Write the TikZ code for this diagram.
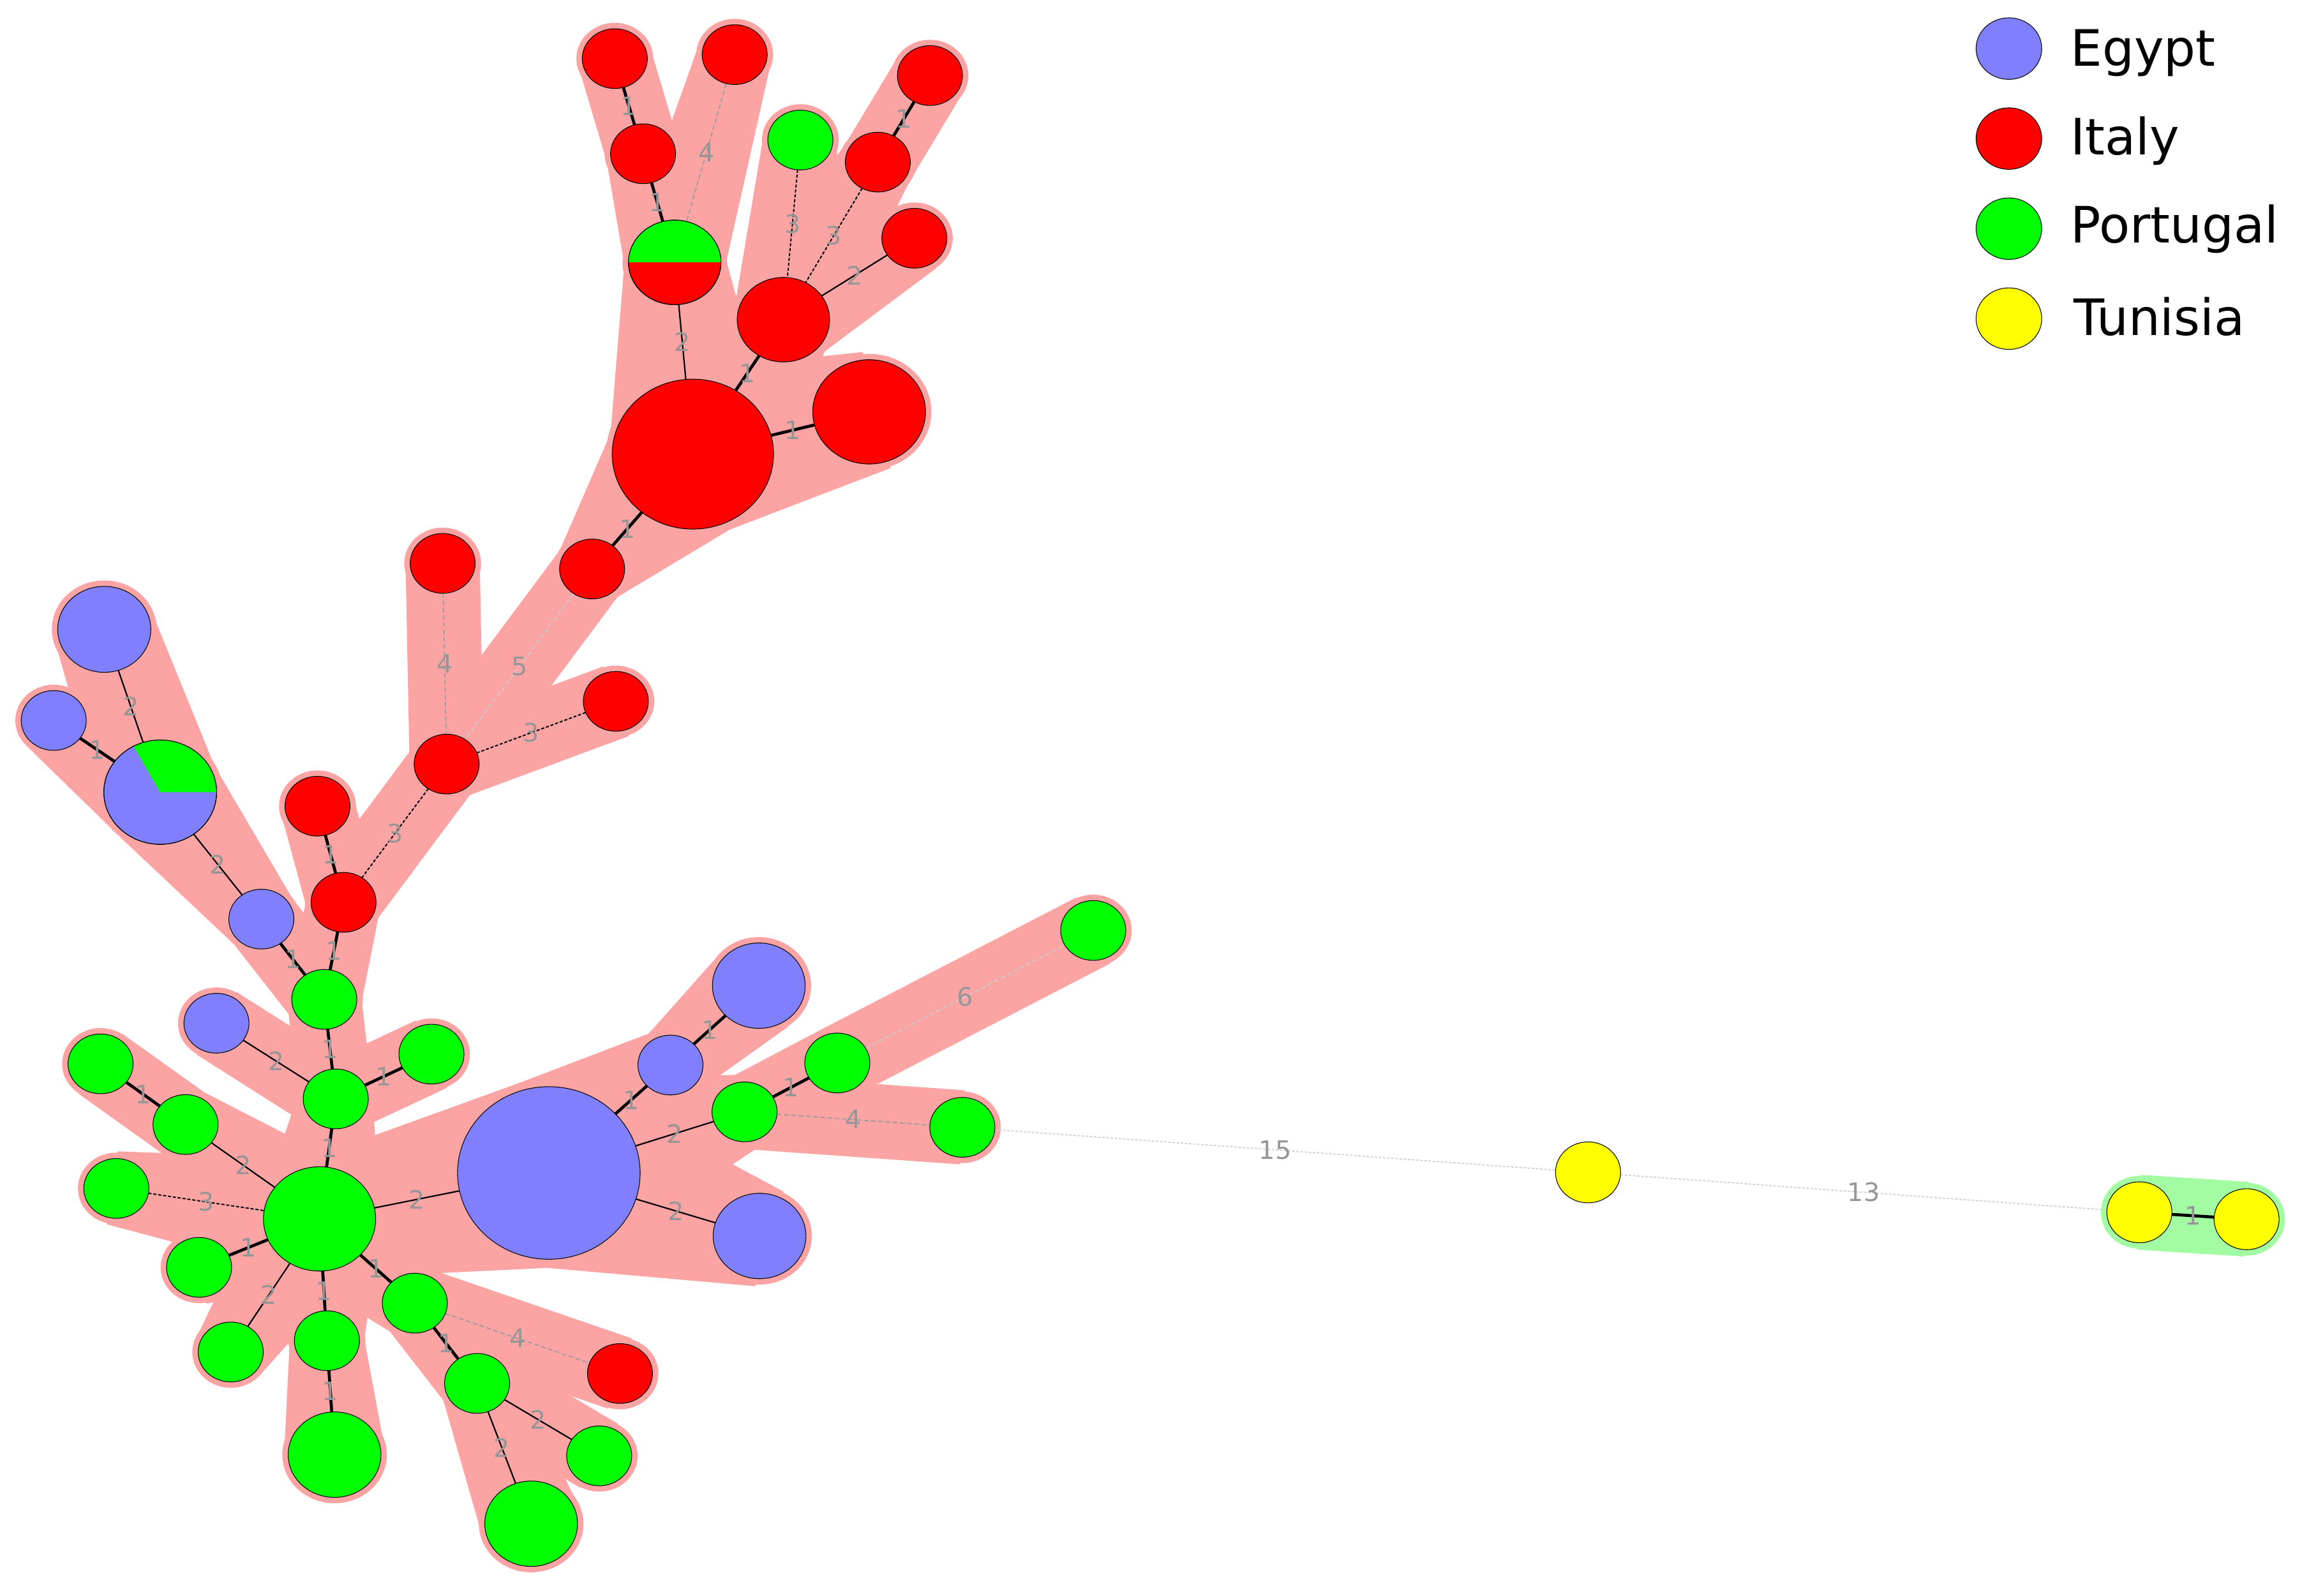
\documentclass[tikz,border=0pt]{standalone}
\usepackage{fontspec}
\setmainfont{DejaVu Sans}
\usetikzlibrary{shapes.geometric,calc}
\definecolor{eg}{RGB}{128,128,255}
\definecolor{it}{RGB}{255,0,0}
\definecolor{pt}{RGB}{0,255,0}
\definecolor{tn}{RGB}{255,255,0}
\definecolor{hullpink}{RGB}{252,164,164}
\definecolor{hullgreen}{RGB}{162,252,162}
\definecolor{lblgray}{RGB}{150,150,150}
\pgfdeclarelayer{background}
\pgfdeclarelayer{hulls}
\pgfdeclarelayer{edges}
\pgfsetlayers{background,hulls,edges,main}
\def\hullm{4}
\newcommand\setnode[6]{%
  \expandafter\xdef\csname ndx@#1\endcsname{#2}%
  \expandafter\xdef\csname ndy@#1\endcsname{#3}%
  \expandafter\xdef\csname ndrx@#1\endcsname{#4}%
  \expandafter\xdef\csname ndry@#1\endcsname{#5}%
  \node[nd, fill=#6, minimum width=#4*2mm, minimum height=#5*2mm] (#1) at (#2,#3) {};%
}
\newcommand\hull[3]{%
  \pgfmathsetmacro\hxa{\csname ndx@#2\endcsname}%
  \pgfmathsetmacro\hya{\csname ndy@#2\endcsname}%
  \pgfmathsetmacro\hexa{\csname ndrx@#2\endcsname+\hullm}%
  \pgfmathsetmacro\heya{\csname ndry@#2\endcsname+\hullm}%
  \pgfmathsetmacro\hra{(\hexa+\heya)/2}%
  \pgfmathsetmacro\hxb{\csname ndx@#3\endcsname}%
  \pgfmathsetmacro\hyb{\csname ndy@#3\endcsname}%
  \pgfmathsetmacro\hexb{\csname ndrx@#3\endcsname+\hullm}%
  \pgfmathsetmacro\heyb{\csname ndry@#3\endcsname+\hullm}%
  \pgfmathsetmacro\hrb{(\hexb+\heyb)/2}%
  \pgfmathsetmacro\hth{atan2(\hyb-\hya,\hxb-\hxa)}%
  \pgfmathsetmacro\hd{veclen(\hxb-\hxa,\hyb-\hya)}%
  \pgfmathsetmacro\hal{acos((\hra-\hrb)/\hd)}%
  \begin{pgfonlayer}{hulls}
    \fill[#1] (\hxa,\hya) ellipse[x radius=\hexa, y radius=\heya]
              (\hxb,\hyb) ellipse[x radius=\hexb, y radius=\heyb];
    \fill[#1] ($(\hxa,\hya)+(\hth+\hal:\hra)$) -- ($(\hxb,\hyb)+(\hth+\hal:\hrb)$)
           -- ($(\hxb,\hyb)+(\hth-\hal:\hrb)$) -- ($(\hxa,\hya)+(\hth-\hal:\hra)$) -- cycle;
  \end{pgfonlayer}%
}
\newcommand\edge[4]{%
  \begin{pgfonlayer}{edges}
    \draw[#1] (#2) -- node[lbl]{#4} (#3);
  \end{pgfonlayer}%
}
\begin{document}
\begin{tikzpicture}[x=1mm,y=-1mm,
  nd/.style={ellipse, draw=black, line width=1.3pt, inner sep=0pt, outer sep=0pt},
  lbl/.style={text=lblgray, font=\fontsize{49}{50}\selectfont, inner sep=0pt},
  eone/.style={line width=5.8pt, draw=black},
  etwo/.style={line width=2.7pt, draw=black},
  ethree/.style={line width=2.4pt, draw=black, dash pattern=on 6pt off 3.5pt},
  efour/.style={line width=2pt, draw=black!40, dash pattern=on 9pt off 5pt},
  elight/.style={line width=2pt, draw=black!20, dash pattern=on 9pt off 5pt},
  efar/.style={line width=2.2pt, draw=black!18, dash pattern=on 5pt off 3pt},
  legtxt/.style={font=\fontsize{97}{110}\selectfont, inner sep=0pt, anchor=base west}]
\useasboundingbox (0,0) rectangle (1568,1083.9);
\begin{pgfonlayer}{background}
\fill[white] (0,0) rectangle (1568,1083.9);
\end{pgfonlayer}

% ---- nodes ----
\setnode{A1}{417.5}{39.8}{22.1}{20.3}{it}
\setnode{A2}{436.7}{104.4}{22.1}{20.3}{it}
\setnode{A3}{458.2}{178.2}{31.4}{28.7}{it}
\setnode{A4}{498.9}{37.1}{22.1}{20.3}{it}
\setnode{A5}{543.5}{95.1}{22.1}{20.3}{pt}
\setnode{A6}{596.1}{110.1}{22.1}{20.3}{it}
\setnode{A7}{631.5}{51.3}{22.1}{20.3}{it}
\setnode{A8}{620.9}{161.8}{22.1}{20.3}{it}
\setnode{A9}{532.0}{217.1}{31.4}{28.7}{it}
\setnode{A10}{470.5}{308.4}{54.8}{50.9}{it}
\setnode{A11}{590.2}{279.7}{38.3}{35.4}{it}
\setnode{A12}{402.1}{386.4}{22.1}{20.3}{it}
\setnode{B1}{300.6}{382.6}{22.1}{20.3}{it}
\setnode{B2}{418.2}{476.3}{22.1}{20.3}{it}
\setnode{B3}{303.3}{518.9}{22.1}{20.3}{it}
\setnode{B4}{215.6}{547.5}{22.1}{20.3}{it}
\setnode{B5}{233.3}{612.8}{22.1}{20.3}{it}
\setnode{E1}{70.8}{427.4}{31.6}{29.2}{eg}
\setnode{E2}{36.5}{489.3}{22.1}{20.3}{eg}
\setnode{E3}{108.8}{538.0}{38.3}{35.4}{eg}
\setnode{E4}{177.5}{624.2}{22.1}{20.3}{eg}
\setnode{G1}{220.2}{678.7}{22.1}{20.3}{pt}
\setnode{E5}{147.0}{694.9}{22.1}{20.3}{eg}
\setnode{G2}{293.0}{715.9}{22.1}{20.3}{pt}
\setnode{G3}{228.0}{746.3}{22.1}{20.3}{pt}
\setnode{G4}{68.3}{722.5}{22.1}{20.3}{pt}
\setnode{G5}{126.0}{763.7}{22.1}{20.3}{pt}
\setnode{G6}{79.0}{807.1}{22.1}{20.3}{pt}
\setnode{G7}{217.0}{827.8}{38.1}{35.4}{pt}
\setnode{G8}{135.2}{860.7}{22.1}{20.3}{pt}
\setnode{G9}{156.7}{918.2}{22.1}{20.3}{pt}
\setnode{G10}{222.0}{910.5}{22.1}{20.3}{pt}
\setnode{G11}{227.2}{987.9}{31.5}{29.0}{pt}
\setnode{G12}{281.7}{885.0}{22.1}{20.3}{pt}
\setnode{G13}{324.0}{939.5}{22.1}{20.3}{pt}
\setnode{G14}{360.7}{1034.8}{31.5}{29.0}{pt}
\setnode{G15}{406.9}{988.7}{22.1}{20.3}{pt}
\setnode{R13}{421.0}{932.8}{22.1}{20.3}{it}
\setnode{E6}{372.7}{796.6}{62.0}{58.6}{eg}
\setnode{E7}{455.3}{723.3}{22.1}{20.3}{eg}
\setnode{E8}{515.3}{669.4}{31.5}{29.0}{eg}
\setnode{G16}{505.6}{755.1}{22.1}{20.3}{pt}
\setnode{G17}{568.6}{721.9}{22.1}{20.3}{pt}
\setnode{G18}{742.4}{631.9}{22.1}{20.3}{pt}
\setnode{G19}{653.5}{765.6}{22.1}{20.3}{pt}
\setnode{E9}{515.8}{839.4}{31.5}{29.0}{eg}
\setnode{Y1}{1078.4}{796.2}{22.1}{20.7}{tn}
\setnode{Y2}{1452.8}{823.3}{22.1}{20.7}{tn}
\setnode{Y3}{1525.6}{828.0}{22.1}{20.7}{tn}

% ---- pie parts ----
\begin{scope}
  \clip (A3.center) ellipse[x radius=31.4, y radius=28.7];
  \fill[pt] (418.2,138.2) rectangle (498.2,178.2);
\end{scope}
\draw[line width=1.3pt] (A3.center) ellipse[x radius=31.4, y radius=28.7];
\begin{scope}
  \clip (E3.center) ellipse[x radius=38.3, y radius=35.4];
  \fill[pt] (E3.center) -- ++(60,0) -- ++(0,-60) -- ($(E3.center)+(-40,-69.3)$) -- cycle;
\end{scope}
\draw[line width=1.3pt] (E3.center) ellipse[x radius=38.3, y radius=35.4];

% ---- hulls ----
\hull{hullpink}{A1}{A2}
\hull{hullpink}{A2}{A3}
\hull{hullpink}{A4}{A3}
\hull{hullpink}{A3}{A10}
\hull{hullpink}{A5}{A9}
\hull{hullpink}{A6}{A9}
\hull{hullpink}{A7}{A6}
\hull{hullpink}{A8}{A9}
\hull{hullpink}{A9}{A10}
\hull{hullpink}{A10}{A11}
\hull{hullpink}{A10}{A12}
\hull{hullpink}{A12}{B3}
\hull{hullpink}{B1}{B3}
\hull{hullpink}{B2}{B3}
\hull{hullpink}{B3}{B5}
\hull{hullpink}{B4}{B5}
\hull{hullpink}{B5}{G1}
\hull{hullpink}{E1}{E3}
\hull{hullpink}{E2}{E3}
\hull{hullpink}{E3}{E4}
\hull{hullpink}{E4}{G1}
\hull{hullpink}{G1}{G3}
\hull{hullpink}{E5}{G3}
\hull{hullpink}{G2}{G3}
\hull{hullpink}{G3}{G7}
\hull{hullpink}{G4}{G5}
\hull{hullpink}{G5}{G7}
\hull{hullpink}{G6}{G7}
\hull{hullpink}{G8}{G7}
\hull{hullpink}{G9}{G7}
\hull{hullpink}{G7}{G10}
\hull{hullpink}{G10}{G11}
\hull{hullpink}{G7}{G12}
\hull{hullpink}{G12}{G13}
\hull{hullpink}{G12}{R13}
\hull{hullpink}{G13}{G14}
\hull{hullpink}{G13}{G15}
\hull{hullpink}{G7}{E6}
\hull{hullpink}{E6}{E7}
\hull{hullpink}{E7}{E8}
\hull{hullpink}{E6}{G16}
\hull{hullpink}{G16}{G17}
\hull{hullpink}{G17}{G18}
\hull{hullpink}{G16}{G19}
\hull{hullpink}{E6}{E9}
\hull{hullgreen}{Y2}{Y3}

% ---- edges ----
\edge{eone}{A1}{A2}{1}
\edge{eone}{A2}{A3}{1}
\edge{efour}{A4}{A3}{4}
\edge{etwo}{A3}{A10}{2}
\edge{ethree}{A5}{A9}{3}
\edge{ethree}{A6}{A9}{3}
\edge{eone}{A7}{A6}{1}
\edge{etwo}{A8}{A9}{2}
\edge{eone}{A9}{A10}{1}
\edge{eone}{A10}{A11}{1}
\edge{eone}{A10}{A12}{1}
\edge{elight}{A12}{B3}{5}
\edge{efour}{B1}{B3}{4}
\edge{ethree}{B2}{B3}{3}
\edge{ethree}{B3}{B5}{3}
\edge{eone}{B4}{B5}{1}
\edge{eone}{B5}{G1}{1}
\edge{etwo}{E1}{E3}{2}
\edge{eone}{E2}{E3}{1}
\edge{etwo}{E3}{E4}{2}
\edge{eone}{E4}{G1}{1}
\edge{eone}{G1}{G3}{1}
\edge{etwo}{E5}{G3}{2}
\edge{eone}{G2}{G3}{1}
\edge{eone}{G3}{G7}{1}
\edge{eone}{G4}{G5}{1}
\edge{etwo}{G5}{G7}{2}
\edge{ethree}{G6}{G7}{3}
\edge{eone}{G8}{G7}{1}
\edge{etwo}{G9}{G7}{2}
\edge{eone}{G7}{G10}{1}
\edge{eone}{G10}{G11}{1}
\edge{eone}{G7}{G12}{1}
\edge{eone}{G12}{G13}{1}
\edge{efour}{G12}{R13}{4}
\edge{etwo}{G13}{G14}{2}
\edge{etwo}{G13}{G15}{2}
\edge{etwo}{G7}{E6}{2}
\edge{eone}{E6}{E7}{1}
\edge{eone}{E7}{E8}{1}
\edge{etwo}{E6}{G16}{2}
\edge{eone}{G16}{G17}{1}
\edge{elight}{G17}{G18}{6}
\edge{efour}{G16}{G19}{4}
\edge{etwo}{E6}{E9}{2}
\edge{efar}{G19}{Y1}{15}
\edge{efar}{Y1}{Y2}{13}
\edge{eone}{Y2}{Y3}{1}

% ---- legend ----
\node[nd, fill=eg, minimum width=44.6mm, minimum height=41.8mm] (LE) at (1364.2,33.0) {};
\node[nd, fill=it, minimum width=44.6mm, minimum height=41.8mm] (LI) at (1364.2,94.1) {};
\node[nd, fill=pt, minimum width=44.6mm, minimum height=41.8mm] (LP) at (1364.2,155.3) {};
\node[nd, fill=tn, minimum width=44.6mm, minimum height=41.8mm] (LT) at (1364.2,216.4) {};
\node[legtxt] (LEt) at (1406,44.9) {Egypt};
\node[legtxt] (LIt) at (1406,105.3) {Italy};
\node[legtxt] (LPt) at (1406,164.9) {Portugal};
\node[legtxt] (LTt) at (1408,227.6) {Tunisia};
\end{tikzpicture}
\end{document}
